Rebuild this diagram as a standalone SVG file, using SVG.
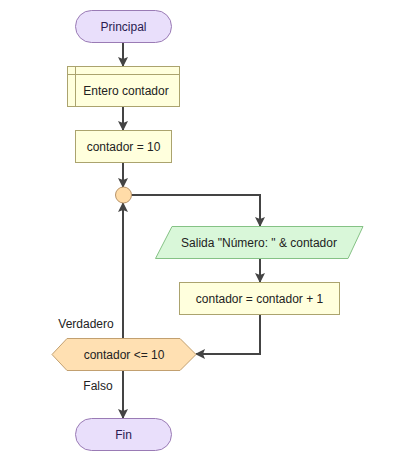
<svg xmlns="http://www.w3.org/2000/svg" width="403" height="473" viewBox="0 0 403 473">
<defs>
<marker id="ah" markerWidth="10" markerHeight="10" refX="9" refY="5" orient="auto" markerUnits="userSpaceOnUse">
<path d="M0,0 L10,5 L0,10 L2,5 Z" fill="#444"/>
</marker>
</defs>
<style>
text{font-family:"Liberation Sans",Arial,sans-serif;font-size:12px;fill:#222;text-anchor:middle;dominant-baseline:central}
.term{fill:#E9DFFB;stroke:#9A7BB5;stroke-width:1}
.proc{fill:#FFFFDD;stroke:#ABA36E;stroke-width:1}
.io{fill:#D9F7D9;stroke:#85C285;stroke-width:1}
.dec{fill:#FFE0B2;stroke:#C2A070;stroke-width:1}
.join{fill:#FFDCA8;stroke:#B8946A;stroke-width:1}
.edge{fill:none;stroke:#444;stroke-width:2;marker-end:url(#ah)}
.lbl{text-anchor:middle}
</style>
<rect width="403" height="473" fill="#fff"/>
<g id="connectors">
<path class="edge" d="M123,43 V66"/>
<path class="edge" d="M123,107 V130"/>
<path class="edge" d="M123,163 V187"/>
<path class="edge" d="M131,195 H260 V226"/>
<path class="edge" d="M260,259 V282"/>
<path class="edge" d="M260,315 V354 H196"/>
<path class="edge" d="M123,338 V203"/>
<path class="edge" d="M123,371 V418"/>
<text x="86" y="324">Verdadero</text>
<text x="98" y="386">Falso</text>
</g>
<g id="principal">
<rect class="term" x="75.5" y="10.5" width="96" height="32" rx="16"/>
<text x="123.5" y="26.5" style="fill:#2A1B50">Principal</text>
</g>
<g id="entero">
<rect class="proc" x="67.5" y="66.5" width="112" height="40"/>
<path d="M75.5,66.5 V106.5 M67.5,74.5 H179.5" fill="none" stroke="#ABA36E"/>
<text x="126" y="91">Entero contador</text>
</g>
<g id="asignar">
<rect class="proc" x="75.5" y="130.5" width="96" height="32"/>
<text x="123.5" y="146.5">contador = 10</text>
</g>
<g id="union">
<circle class="join" cx="123.5" cy="195" r="8"/>
</g>
<g id="salida">
<polygon class="io" points="172,226.5 363,226.5 348,258.5 155.5,258.5"/>
<text x="259" y="242.5">Salida "Número: " &amp; contador</text>
</g>
<g id="incremento">
<rect class="proc" x="179.5" y="282.5" width="160" height="32"/>
<text x="259.5" y="298.5">contador = contador + 1</text>
</g>
<g id="condicion">
<polygon class="dec" points="52,354.5 67,338.5 180,338.5 196,354.5 180,370.5 67,370.5"/>
<text x="124" y="354.5">contador &lt;= 10</text>
</g>
<g id="fin">
<rect class="term" x="75.5" y="418.5" width="96" height="32" rx="16"/>
<text x="123.5" y="434.5" style="fill:#2A1B50">Fin</text>
</g>
</svg>
